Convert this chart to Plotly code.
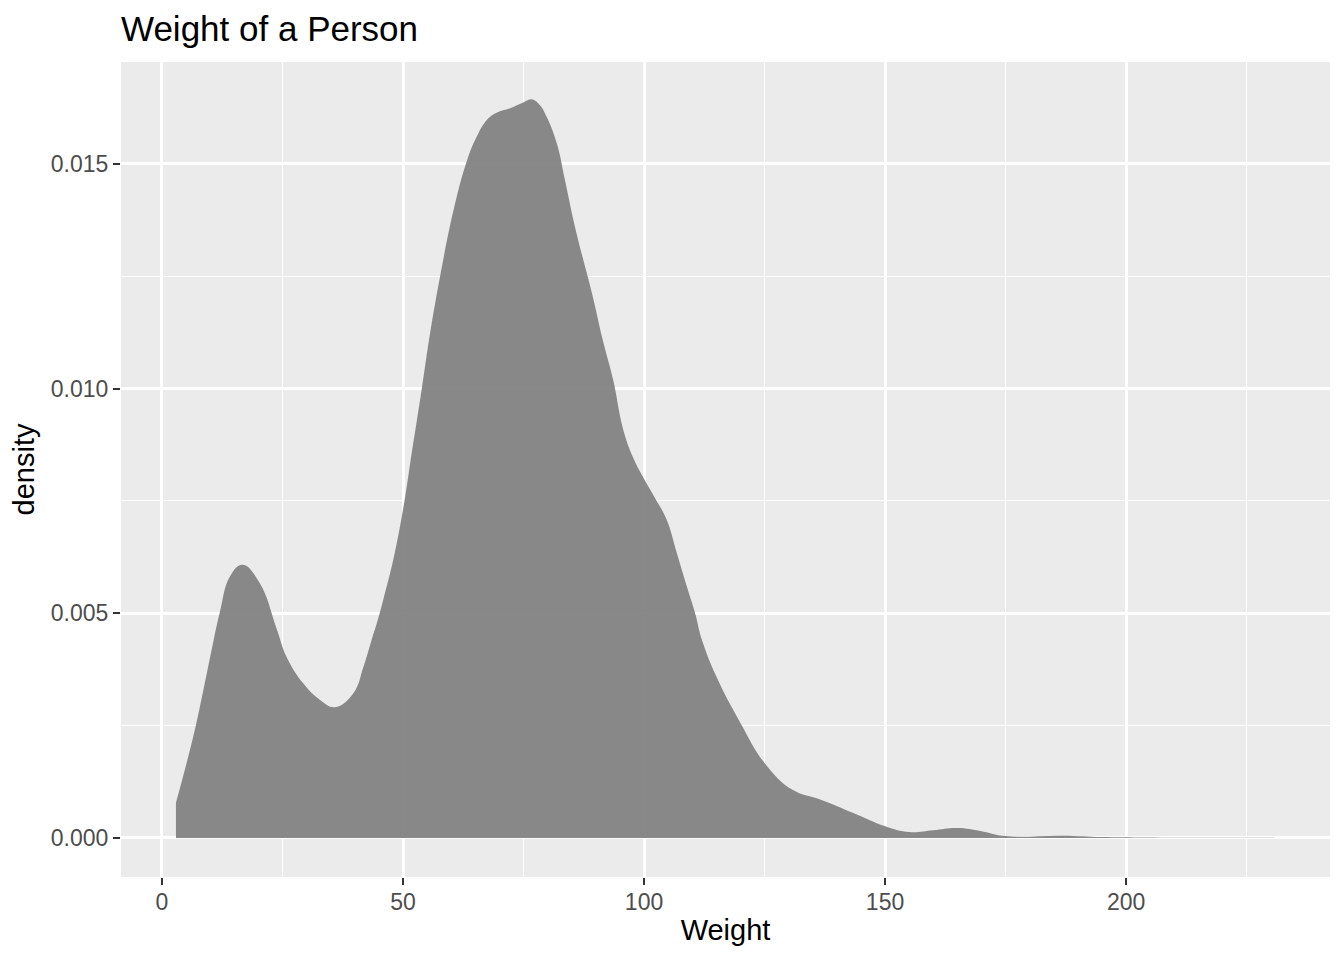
"""Density of a person's weight, drawn in the ggplot2 grey style."""

import plotly.graph_objects as go

# Values
weight = [2.9, 6.5, 8.6, 10.6, 12.0, 14.1, 16.7, 20.3, 23.8, 25.8, 29.3,
          32.8, 35.9, 39.7, 41.8, 43.5, 44.9, 45.9, 48.0, 50.1, 51.8, 53.9,
          55.6, 57.7, 60.5, 63.2, 65.3, 67.4, 69.4, 72.2, 74.6, 76.7, 78.4,
          79.8, 81.9, 83.6, 85.9, 89.3, 91.4, 93.6, 95.7, 97.8, 99.9, 102.3,
          104.7, 106.8, 108.9, 110.6, 112.0, 115.0, 120.0, 125.0, 130.8,
          136.7, 143.3, 150.0, 155.0, 160.0, 165.0, 170.0, 175.0, 186.7,
          195.0, 203.0, 215.0, 230.8]
density = [0.00078, 0.00226, 0.00330, 0.00434, 0.00502, 0.00582, 0.00608,
           0.00567, 0.00465, 0.00404, 0.00344, 0.00307, 0.00291, 0.00322,
           0.00381, 0.00441, 0.00490, 0.00530, 0.00620, 0.00737, 0.00856,
           0.01000, 0.01122, 0.01250, 0.01398, 0.01505, 0.01561, 0.01598,
           0.01614, 0.01624, 0.01635, 0.01644, 0.01631, 0.01605, 0.01546,
           0.01464, 0.01350, 0.01208, 0.01110, 0.01019, 0.00908, 0.00845,
           0.00801, 0.00756, 0.00708, 0.00634, 0.00559, 0.00500, 0.00441,
           0.00359, 0.00256, 0.00167, 0.00107, 0.00085, 0.00056, 0.00026,
           0.00013, 0.00017, 0.00022, 0.00015, 0.00004, 0.00005, 0.00002,
           0.00001, 0.000005, 0.000005]

x_ticks = [0, 50, 100, 150, 200]
y_ticks = [0.000, 0.005, 0.010, 0.015]

FONT = "Liberation Sans, Arial, Helvetica, sans-serif"

# the page body adds an 8px margin, so the figure is 16px smaller
fig_w, fig_h = 1328, 944

fig = go.Figure()
fig.add_trace(go.Scatter(x=weight, y=density, mode="lines",
                         line=dict(width=0, shape="spline", smoothing=1.2),
                         fill="tozeroy",
                         fillcolor="rgba(127,127,127,0.92)",
                         hoverinfo="skip", showlegend=False))

axis_common = dict(showline=False, zeroline=False,
                   showgrid=True, gridcolor="white", gridwidth=2.6,
                   ticks="outside", ticklen=7, tickwidth=2,
                   tickcolor="#333333",
                   tickfont=dict(family=FONT, size=23, color="#4D4D4D"),
                   title_font=dict(family=FONT, size=29, color="black"))

fig.update_layout(
    width=fig_w, height=fig_h,
    margin=dict(l=113, r=6, t=54, b=75),
    paper_bgcolor="white",
    plot_bgcolor="#EBEBEB",
    title=dict(text="Weight of a Person", x=113 / fig_w, xanchor="left",
               xref="container", y=1 - 21 / fig_h, yanchor="middle",
               font=dict(family=FONT, size=35, color="black")),
    xaxis=dict(axis_common, range=[-8.5, 242.3], tickvals=x_ticks,
               ticklabelstandoff=-3,
               title=dict(text="Weight", standoff=6),
               minor=dict(dtick=25, tick0=0, showgrid=True,
                          gridcolor="white", gridwidth=1.3, ticks="")),
    yaxis=dict(axis_common, range=[-0.00087, 0.01727], tickvals=y_ticks,
               tickformat=".3f",
               title=dict(text="density", standoff=8),
               minor=dict(dtick=0.0025, tick0=0, showgrid=True,
                          gridcolor="white", gridwidth=1.3, ticks="")),
)

fig.write_html("out.html")
